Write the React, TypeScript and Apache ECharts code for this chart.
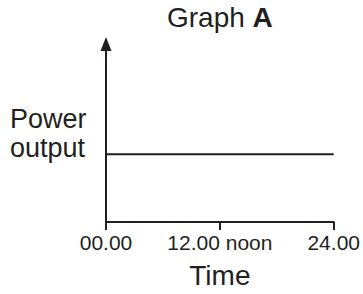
import React, { useEffect, useRef } from "react";
import * as echarts from "echarts";

const times = [0, 24];
const powerOutput = [38, 38];
const tickLabels: Record<number, string> = { 0: "00.00", 12: "12.00 noon", 24: "24.00" };
const titleText = "Graph {b|A}";
const yName = "Power\noutput";
const xName = "Time";

const INK = "#231f20";
const FONT = "'Liberation Sans', Arial, sans-serif";

export default function App() {
  const ref = useRef<HTMLDivElement>(null);
  useEffect(() => {
    if (!ref.current) return;
    const chart = echarts.init(ref.current, undefined, { renderer: "svg" });
    chart.setOption({
      animation: false,
      backgroundColor: "#ffffff",
      textStyle: { fontFamily: FONT, color: INK },
      title: {
        text: titleText,
        left: 162,
        top: 0,
        padding: [3, 5],
        textStyle: {
          fontFamily: FONT,
          fontSize: 28,
          fontWeight: "normal",
          color: INK,
          rich: { b: { fontFamily: FONT, fontSize: 28, fontWeight: "bold", color: INK } },
        },
      },
      grid: { left: 106, right: 29, top: 44, bottom: 70 },
      xAxis: {
        type: "value",
        min: 0,
        max: 24,
        interval: 12,
        name: xName,
        nameLocation: "middle",
        nameGap: 39,
        nameTextStyle: { fontFamily: FONT, fontSize: 28, color: INK },
        axisLine: { show: true, onZero: false, lineStyle: { color: INK, width: 2 } },
        axisTick: { show: true, inside: false, length: 8, lineStyle: { color: INK, width: 2 } },
        axisLabel: {
          show: true,
          margin: 10,
          fontFamily: FONT,
          fontSize: 21,
          color: INK,
          formatter: (v: number) => tickLabels[v] ?? "",
        },
        splitLine: { show: false },
      },
      yAxis: {
        type: "value",
        min: 0,
        max: 100,
        name: yName,
        nameLocation: "middle",
        nameRotate: 0,
        nameGap: 96,
        nameTextStyle: { fontFamily: FONT, fontSize: 27, lineHeight: 29, color: INK, align: "left" },
        axisLine: {
          show: true,
          onZero: false,
          symbol: ["none", "triangle"],
          symbolSize: [11, 14],
          lineStyle: { color: INK, width: 2 },
        },
        axisTick: { show: false },
        axisLabel: { show: false },
        splitLine: { show: false },
      },
      series: [
        {
          type: "line",
          data: times.map((t, i) => [t, powerOutput[i]]),
          symbol: "none",
          lineStyle: { color: INK, width: 2 },
        },
      ],
    });
    return () => chart.dispose();
  }, []);
  return (
    <div
      ref={ref}
      style={{ position: "fixed", left: 0, top: 0, width: 363, height: 294, background: "#fff" }}
    />
  );
}
